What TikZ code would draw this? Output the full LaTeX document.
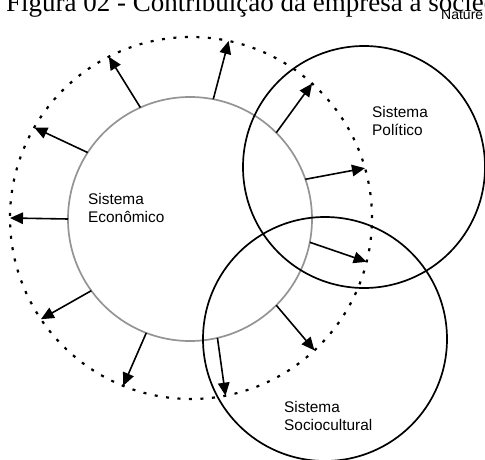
\documentclass[tikz,border=0pt]{standalone}
\usepackage{fontspec}
\setmainfont{Liberation Sans}
\newfontfamily\titlefont{Liberation Serif}
\usetikzlibrary{arrows.meta}
\tikzset{
  ring/.style={circle,draw,line width=1.7pt,inner sep=0pt,outer sep=0pt},
  arr/.style={line width=1.6pt,-{Triangle[length=13pt,width=11.5pt]}},
  lbl/.style={align=left,inner sep=0pt,anchor=north west,font=\fontsize{15.4}{18}\selectfont}
}
\begin{document}
\begin{tikzpicture} [x=1pt,y=1pt]
		\useasboundingbox (0,0) rectangle (485,459);
		% circles
		\node [ring,draw=black!42,minimum size=244pt] (eco) at (190,240) {};
		\node [ring,draw=none,minimum size=362pt] (ext) at (191,241) {};
		\draw [line width=2.2pt,dash pattern=on 3pt off 8.5pt] (ext.center) circle (181);
		\node [ring,minimum size=242pt] (pol) at (364,292) {};
		\node [ring,minimum size=244pt] (soc) at (325,120) {};
		% arrows
		\foreach \a/\b in {147/150.6,114/117.7,79.5/78.5,45.6/48,19.7/16,-11.7/-14.7,-45.6/-47.9,-77/-79,-111.5/-112,216.7/214.6,180/180}
			\draw [arr] (eco.\a) -- (ext.\b);
		% labels
		\node [lbl] (leco) at (88,266) {Sistema\\Econômico};
		\node [lbl] (lpol) at (372,353) {Sistema\\Político};
		\node [lbl] (lsoc) at (284,58) {Sistema\\Sociocultural};
		\node [anchor=base west,inner sep=0pt,font=\titlefont\fontsize{27}{27}\selectfont] (title) at (6,447.5) {Figura 02 - Contribuição da empresa à sociedade};
		\node [anchor=base west,inner sep=0pt,font=\fontsize{14}{14}\selectfont] (nat) at (441,439.5) {Nature};
	\end{tikzpicture}
\end{document}
